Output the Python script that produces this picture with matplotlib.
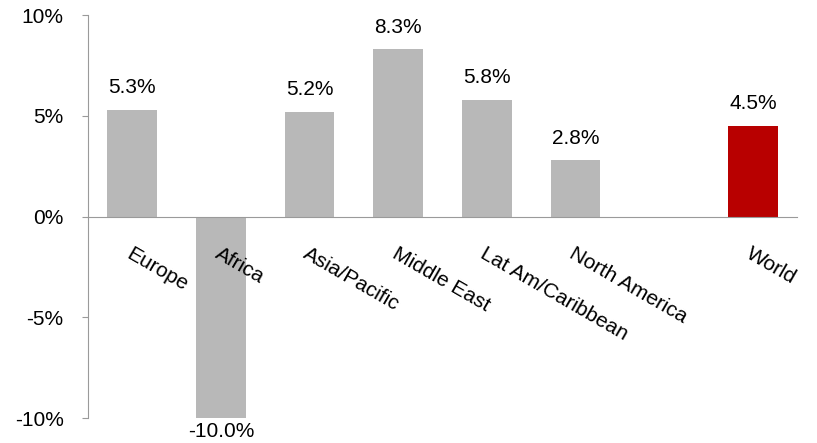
import numpy as np
import matplotlib.pyplot as plt

regions = ['Europe', 'Africa', 'Asia/Pacific', 'Middle East', 'Lat Am/Caribbean',
           'North America', '', 'World']
growth = [5.3, -10.0, 5.2, 8.3, 5.8, 2.8, np.nan, 4.5]
colors = ['#B8B8B8'] * 7 + ['#B80000']

plt.rcParams['font.family'] = ['Liberation Sans', 'DejaVu Sans']
FS = 15

fig = plt.figure(figsize=(8.17, 4.43), dpi=100)
ax = fig.add_axes([0.1077, 0.0564, 0.868, 0.9096])

x = np.arange(len(regions))
vals = np.nan_to_num(growth)
ax.bar(x, vals, width=0.56, color=colors, zorder=2)

for xi, v in zip(x, growth):
    if np.isnan(v):
        continue
    if v >= 0:
        ax.annotate(f'{v:.1f}%', (xi, v), xytext=(0, 9), textcoords='offset points',
                    ha='center', va='bottom', fontsize=FS)
    else:
        ax.annotate(f'{v:.1f}%', (xi, v), xytext=(0, -3), textcoords='offset points',
                    ha='center', va='top', fontsize=FS)

ax.set_xlim(-0.5, len(regions) - 0.5)
ax.set_ylim(-10, 10)
ax.set_yticks([-10, -5, 0, 5, 10])
ax.set_yticklabels([f'{t}%' for t in [-10, -5, 0, 5, 10]], fontsize=FS)

ax.spines['top'].set_visible(False)
ax.spines['right'].set_visible(False)
ax.spines['left'].set_color('#9A9A9A')
ax.spines['bottom'].set_position(('data', 0))
ax.spines['bottom'].set_color('#9A9A9A')
ax.spines['bottom'].set_zorder(3)
ax.tick_params(axis='y', length=4.5, color='#9A9A9A', pad=13)

# category names sit under the zero line and over the bars
ax.xaxis.set_zorder(4)
ax.set_xticks(x)
ax.set_xticklabels(regions, fontsize=FS, rotation=-30, ha='left', va='top',
                   rotation_mode='anchor')
ax.tick_params(axis='x', length=0, pad=20)

fig.savefig('out.png', dpi=100)
